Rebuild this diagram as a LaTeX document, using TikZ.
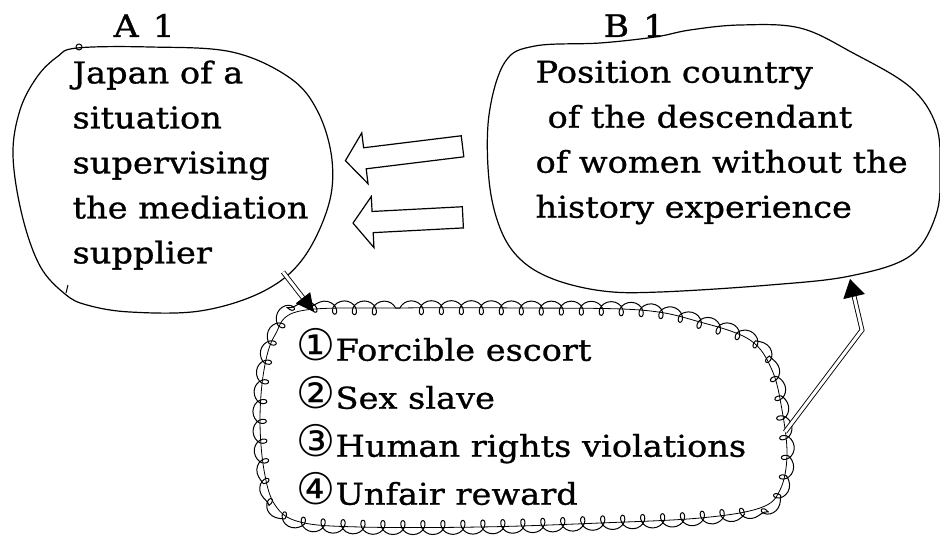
\documentclass[tikz,border=0pt]{standalone}
\usepackage{fontspec}
\setmainfont{DejaVu Serif}[FakeStretch=1.12,FakeBold=0.9]
\newfontfamily\circfont{DejaVu Sans}[Scale=1.45]
\usetikzlibrary{arrows.meta,calc,positioning,shapes.arrows,decorations.pathmorphing}

\begin{document}
\begin{tikzpicture}[x=1pt,y=-1pt,line width=1.2pt,
		txt/.style={inner sep=0pt,align=left,anchor=north west,font=\fontsize{30}{45}\selectfont},
		lbl/.style={inner sep=0pt,anchor=base west,font=\fontsize{31}{31}\selectfont},
		hollow/.style={single arrow,draw,fill=white,line width=1.2pt,shape border rotate=180,
			single arrow head extend=15pt,inner sep=10pt,single arrow tip angle=105},
		dbl/.style={double,double distance=3pt,line width=0.9pt},
		loopy/.style={decorate,decoration={coil,amplitude=7pt,segment length=20pt,aspect=0.9},line width=1pt}]
			\useasboundingbox (0,0) rectangle (940,537);
			% the two bubbles
			\draw plot[smooth cycle,tension=0.6] coordinates {(77,48) (150,47) (232,52) (290,78) (318,112) (332,160) (328,207) (302,260) (262,292) (200,311) (130,312) (87,305) (65,294) (40,266) (22,215) (13,155) (20,110) (37,77) (57,57)};
			\draw[line width=1pt] (79,47) circle (3);
			\draw[line width=1pt] (66,293) -- (68,285);
			\draw plot[smooth cycle,tension=0.6] coordinates {(505,62) (535,46) (600,43) (655,37) (690,30) (740,25) (800,28) (853,53) (910,87) (936,125) (940,170) (936,215) (910,256) (850,276) (770,285) (660,292) (603,291) (553,279) (520,259) (500,228) (489,180) (489,115)};
			\node[txt] (blob_a) at (72,60) {Japan of a\\situation\\supervising\\the mediation\\supplier};
			\node[txt] (blob_b) at (535,60) {Position country\\\hspace{12pt}of the descendant\\of women without the\\history experience};
			\node[lbl] (lbl_a) at (113,37) {A\hspace{14pt}1};
			\node[lbl] (lbl_b) at (603,37) {B\hspace{14pt}1};
			% hollow arrows from B to A
			\node[hollow,minimum height=118pt,rotate=7] (arr_1) at (408,153) {};
			\node[hollow,minimum height=110pt,rotate=3] (arr_2) at (412,220) {};
			% the list with its looped border
			\path[draw,line width=0.8pt] plot[smooth cycle,tension=0.6] coordinates {(300,311) (400,308) (520,308) (640,310) (700,322) (750,340) (772,370) (782,410) (787,455) (780,490) (760,508) (700,518) (600,523) (480,527) (360,527) (300,522) (275,505) (264,470) (260,420) (264,370) (275,335)};
			\path[draw,loopy] plot[smooth cycle,tension=0.6] coordinates {(300,311) (400,308) (520,308) (640,310) (700,322) (750,340) (772,370) (782,410) (787,455) (780,490) (760,508) (700,518) (600,523) (480,527) (360,527) (300,522) (275,505) (264,470) (260,420) (264,370) (275,335)};
			\node[txt,font=\fontsize{30}{48}\selectfont] (list) at (296,328) {{\circfont ①}Forcible escort\\{\circfont ②}Sex slave\\{\circfont ③}Human rights violations\\{\circfont ④}Unfair reward};
			% connectors
			\coordinate (a_out) at (283,272);
			\coordinate (l_in) at (314,312);
			\coordinate (l_out) at (785,432);
			\coordinate (l_bend) at (862,330);
			\coordinate (b_in) at (850,279);
			\draw[dbl,-{Triangle[length=18pt,width=18pt]}] (a_out) -- (l_in);
			\draw[dbl,-{Triangle[length=18pt,width=22pt]}] (l_out) -- (l_bend) -- (b_in);
		\end{tikzpicture}
\end{document}
